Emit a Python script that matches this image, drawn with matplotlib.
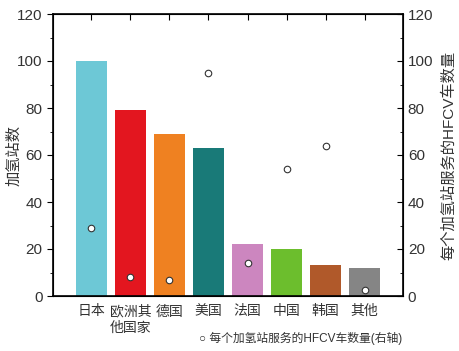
import numpy as np
import matplotlib.pyplot as plt
from matplotlib.ticker import MultipleLocator

plt.rcParams['font.family'] = ['Liberation Sans', 'Noto Sans CJK SC', 'DejaVu Sans']

# data
countries = ['日本', '欧洲其\n他国家', '德国', '美国', '法国', '中国', '韩国', '其他']
stations = [100, 79, 69, 63, 22, 20, 13, 12]
hfcv_per_station = [29, 8, 7, 95, 14, 54, 64, 2.5]
colors = ['#6dc8d6', '#e3161f', '#ef8121', '#197a78', '#cc86bf', '#6cbe2d', '#b0592a', '#858585']

txt = '#333333'

fig = plt.figure(figsize=(4.6, 3.51), dpi=100)
ax = fig.add_axes([53/460, 1 - 296/351, 350/460, 282/351])

x = np.arange(len(countries))
ax.bar(x, stations, width=0.8, color=colors)
ax.set_xlim(-0.98, 7.98)
ax.set_ylim(0, 120)
ax.yaxis.set_major_locator(MultipleLocator(20))
ax.yaxis.set_minor_locator(MultipleLocator(10))
ax.set_xticks(x)
ax.set_xticklabels(countries, fontsize=10, linespacing=1.2, color=txt)
ax.tick_params(axis='x', which='both', bottom=False, top=True, direction='in', length=4, pad=6)
ax.tick_params(axis='y', which='major', direction='out', length=4, labelsize=11, labelcolor=txt)
ax.tick_params(axis='y', which='minor', direction='out', length=2)
ax.set_ylabel('加氢站数', fontsize=11, color=txt)
ax.yaxis.set_label_coords(-0.09, 0.5)
for s in ax.spines.values():
    s.set_linewidth(1.2)

ax2 = ax.twinx()
ax2.scatter(x, hfcv_per_station, s=22, facecolor='white', edgecolor='#333333', linewidth=0.8, zorder=5)
ax2.set_ylim(0, 120)
ax2.yaxis.set_major_locator(MultipleLocator(20))
ax2.yaxis.set_minor_locator(MultipleLocator(10))
ax2.tick_params(axis='y', which='major', direction='in', length=4, labelsize=11, labelcolor=txt)
ax2.tick_params(axis='y', which='minor', direction='in', length=2)
ax2.set_ylabel('每个加氢站服务的HFCV车数量', fontsize=11, color=txt, labelpad=6)

fig.text(301/460, 1 - 338/351, '○ 每个加氢站服务的HFCV车数量(右轴)', fontsize=8.5,
         ha='center', va='center', color=txt)

fig.savefig('out.png')
